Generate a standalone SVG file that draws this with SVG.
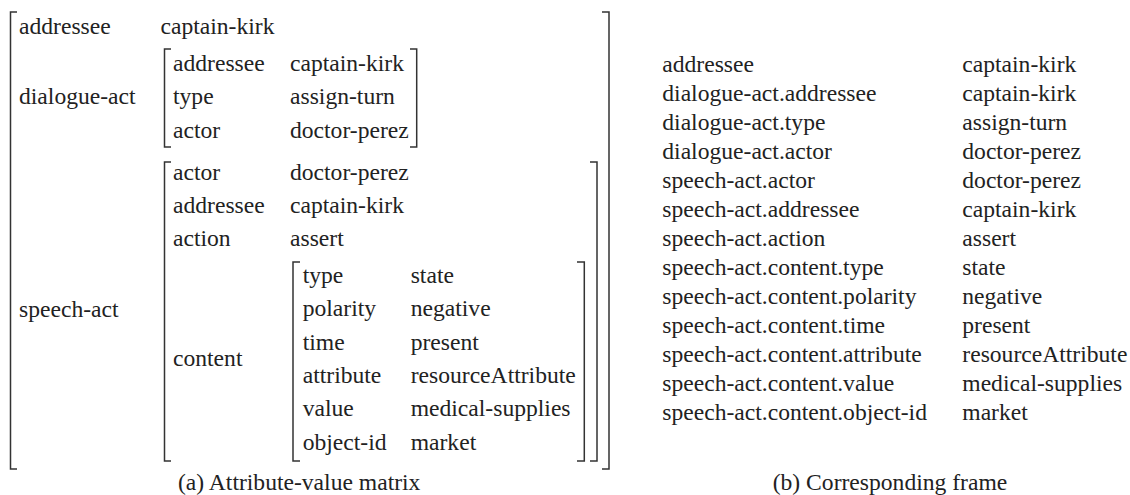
<svg xmlns="http://www.w3.org/2000/svg" width="1130" height="495" viewBox="0 0 1130 495">
<style>
text{font-family:"Liberation Serif","Times New Roman",serif;font-size:23.6px;fill:#222}
.br{fill:none;stroke:#333;stroke-width:1.5}
</style>
<rect width="1130" height="495" fill="#fff"/>
<g id="avm">
  <g id="outer">
    <path class="br" d="M17,12 H10.5 V469 H17"/>
    <path class="br" d="M602,12 H609 V469 H602"/>
    <text x="19" y="34">addressee</text>
    <text x="160.5" y="34">captain-kirk</text>
    <text x="19" y="104">dialogue-act</text>
    <text x="19" y="317">speech-act</text>
  </g>
  <g id="dialogue-act">
    <path class="br" d="M171,49 H164.5 V147 H171"/>
    <path class="br" d="M410,49 H416.7 V147 H410"/>
    <text x="173" y="70.5">addressee</text><text x="290" y="70.5">captain-kirk</text>
    <text x="173" y="104">type</text><text x="290" y="104">assign-turn</text>
    <text x="173" y="137.5">actor</text><text x="290" y="137.5">doctor-perez</text>
  </g>
  <g id="speech-act">
    <path class="br" d="M171,162 H164.5 V461 H171"/>
    <path class="br" d="M590,162 H597 V461 H590"/>
    <text x="173" y="180">actor</text><text x="290" y="180">doctor-perez</text>
    <text x="173" y="213">addressee</text><text x="290" y="213">captain-kirk</text>
    <text x="173" y="246">action</text><text x="290" y="246">assert</text>
    <text x="173" y="366">content</text>
  </g>
  <g id="content">
    <path class="br" d="M300,262 H293 V461 H300"/>
    <path class="br" d="M577,262 H584.3 V461 H577"/>
    <text x="302.7" y="283">type</text><text x="410.7" y="283">state</text>
    <text x="302.7" y="316.3">polarity</text><text x="410.7" y="316.3">negative</text>
    <text x="302.7" y="349.6">time</text><text x="410.7" y="349.6">present</text>
    <text x="302.7" y="383">attribute</text><text x="410.7" y="383">resourceAttribute</text>
    <text x="302.7" y="416.3">value</text><text x="410.7" y="416.3">medical-supplies</text>
    <text x="302.7" y="449.6">object-id</text><text x="410.7" y="449.6">market</text>
  </g>
  <text id="caption-a" x="178" y="490">(a) Attribute-value matrix</text>
</g>
<g id="frame">
  <text x="662.3" y="71.7">addressee</text><text x="962.3" y="71.7">captain-kirk</text>
  <text x="662.3" y="100.7">dialogue-act.addressee</text><text x="962.3" y="100.7">captain-kirk</text>
  <text x="662.3" y="129.7">dialogue-act.type</text><text x="962.3" y="129.7">assign-turn</text>
  <text x="662.3" y="158.7">dialogue-act.actor</text><text x="962.3" y="158.7">doctor-perez</text>
  <text x="662.3" y="187.7">speech-act.actor</text><text x="962.3" y="187.7">doctor-perez</text>
  <text x="662.3" y="216.7">speech-act.addressee</text><text x="962.3" y="216.7">captain-kirk</text>
  <text x="662.3" y="245.7">speech-act.action</text><text x="962.3" y="245.7">assert</text>
  <text x="662.3" y="274.7">speech-act.content.type</text><text x="962.3" y="274.7">state</text>
  <text x="662.3" y="303.7">speech-act.content.polarity</text><text x="962.3" y="303.7">negative</text>
  <text x="662.3" y="332.7">speech-act.content.time</text><text x="962.3" y="332.7">present</text>
  <text x="662.3" y="361.7">speech-act.content.attribute</text><text x="962.3" y="361.7">resourceAttribute</text>
  <text x="662.3" y="390.7">speech-act.content.value</text><text x="962.3" y="390.7">medical-supplies</text>
  <text x="662.3" y="419.7">speech-act.content.object-id</text><text x="962.3" y="419.7">market</text>
  <text id="caption-b" x="772.7" y="490">(b) Corresponding frame</text>
</g>
<g id="connectors"/>
</svg>
